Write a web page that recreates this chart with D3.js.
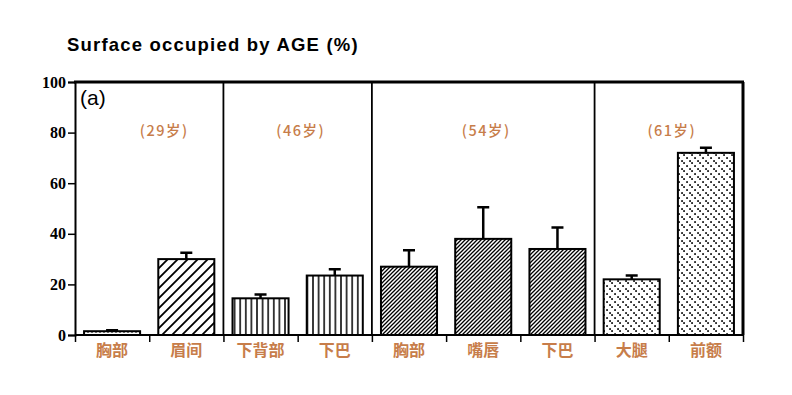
<!DOCTYPE html>
<html>
<head>
<meta charset="utf-8">
<script src="https://cdn.jsdelivr.net/npm/d3@7"></script>
<style>
  body { margin: 0; background: #fff; }
</style>
</head>
<body>
<div id="chart"></div>
<script>
// values
const categories = ["胸部", "眉间", "下背部", "下巴", "胸部", "嘴唇", "下巴", "大腿", "前额"];
const values = [1.5, 30, 14.5, 23.5, 27, 38, 34, 22, 72];
const errors = [0.4, 2.5, 1.5, 2.5, 6.5, 12.5, 8.5, 1.5, 2];
const fills = ["dots", "wide", "vert", "vert", "dense", "dense", "dense", "dotdiag", "dotdiag"];
const groupLabels = ["(29岁)", "(46岁)", "(54岁)", "(61岁)"];
const groupSizes = [2, 2, 3, 2];
const yTicks = [0, 20, 40, 60, 80, 100];

const W = 792, H = 395;
const margin = {top: 82, right: 49, bottom: 60, left: 75};
const width = W - margin.left - margin.right,
      height = 335 - margin.top;
const orange = "#c77d4a";

const svg = d3.select("#chart").append("svg")
    .attr("width", W)
    .attr("height", H);

// fill patterns
const defs = svg.append("defs");
function pat(id, w, h, draw) {
    const p = defs.append("pattern")
        .attr("id", id)
        .attr("patternUnits", "userSpaceOnUse")
        .attr("width", w).attr("height", h);
    p.append("rect").attr("width", w).attr("height", h).attr("fill", "#fff");
    draw(p);
}
pat("wide", 10, 10, p => {
    p.append("path").attr("d", "M-2,2 L2,-2 M0,10 L10,0 M8,12 L12,8")
        .attr("stroke", "#000").attr("stroke-width", 1.8);
});
pat("vert", 5.6, 10, p => {
    p.append("line").attr("x1", 2.8).attr("x2", 2.8).attr("y1", 0).attr("y2", 10)
        .attr("stroke", "#000").attr("stroke-width", 1.5);
});
pat("dense", 4, 4, p => {
    p.append("path").attr("d", "M-1,1 L1,-1 M0,4 L4,0 M3,5 L5,3")
        .attr("stroke", "#000").attr("stroke-width", 1.3);
});
pat("dotdiag", 8, 8, p => {
    // dotted "\" lines
    [[1, 1], [4, 4], [7, 7]].forEach(([cx, cy]) => {
        p.append("rect").attr("x", cx - 0.8).attr("y", cy - 0.8)
            .attr("width", 1.7).attr("height", 1.7).attr("fill", "#000");
    });
});
pat("dots", 4, 3, p => {
    p.append("rect").attr("x", 0).attr("y", 0).attr("width", 2).attr("height", 1.5).attr("fill", "#000");
});

const g = svg.append("g")
    .attr("transform", `translate(${margin.left}, ${margin.top})`);

const x = d3.scaleBand()
    .domain(d3.range(categories.length))
    .range([0, width])
    .paddingInner(0.245)
    .paddingOuter(0.122);

const y = d3.scaleLinear()
    .domain([0, 100])
    .range([height, 0]);

// title
svg.append("text")
    .attr("x", 67).attr("y", 51)
    .attr("font-family", "Liberation Sans, Arial, sans-serif")
    .attr("font-weight", "bold")
    .attr("font-size", 18.5)
    .attr("letter-spacing", 1.2)
    .text("Surface occupied by AGE (%)");

// y axis
const yAxis = g.append("g")
    .call(d3.axisLeft(y).tickValues(yTicks).tickSize(7).tickPadding(2));
yAxis.select(".domain").attr("stroke-width", 2);
yAxis.selectAll(".tick line").attr("stroke-width", 1.5);
yAxis.selectAll(".tick text")
    .attr("font-family", "Liberation Serif, Times New Roman, serif")
    .attr("font-weight", "bold")
    .attr("font-size", 16)
    .attr("fill", "#000");

// x axis: ticks at band boundaries
const xb = d3.scaleLinear().domain([0, categories.length]).range([0, width]);
const xAxis = g.append("g")
    .attr("transform", `translate(0, ${height})`)
    .call(d3.axisBottom(xb).tickValues(d3.range(categories.length + 1)).tickSize(7).tickFormat(""));
xAxis.select(".domain").attr("stroke-width", 2).attr("d", `M0,0H${width}`);
xAxis.selectAll(".tick line").attr("stroke-width", 1.5);

// category labels
g.selectAll(".cat")
    .data(categories)
    .enter().append("text")
    .attr("class", "cat")
    .attr("x", (d, i) => x(i) + x.bandwidth() / 2)
    .attr("y", height + 21)
    .attr("text-anchor", "middle")
    .attr("font-family", "Noto Sans CJK SC, sans-serif")
    .attr("font-weight", "bold")
    .attr("font-size", 16)
    .attr("fill", orange)
    .text(d => d);

// frame: top and right borders
g.append("line")
    .attr("x1", -1).attr("x2", width + 1).attr("y1", y(100)).attr("y2", y(100))
    .attr("stroke", "#000").attr("stroke-width", 3);
g.append("line")
    .attr("x1", width).attr("x2", width).attr("y1", y(100)).attr("y2", height)
    .attr("stroke", "#000").attr("stroke-width", 3);

// group dividers and age labels
let start = 0;
groupSizes.forEach((n, k) => {
    const end = start + n;
    if (end < categories.length) {
        const xd = (x(end - 1) + x.bandwidth() + x(end)) / 2;
        g.append("line")
            .attr("x1", xd).attr("x2", xd).attr("y1", y(100)).attr("y2", height)
            .attr("stroke", "#000").attr("stroke-width", 1.8);
    }
    const cx = (x(start) + x(end - 1) + x.bandwidth()) / 2;
    g.append("text")
        .attr("x", cx + (k === 0 ? 15 : 3))
        .attr("y", y(80) + 3)
        .attr("text-anchor", "middle")
        .attr("font-family", "Noto Sans CJK SC, sans-serif")
        .attr("font-weight", 500)
        .attr("font-size", 14.5)
        .attr("letter-spacing", 1.5)
        .attr("fill", orange)
        .text(groupLabels[k]);
    start = end;
});

g.append("text")
    .attr("x", 5).attr("y", y(91))
    .attr("font-family", "Liberation Sans, Arial, sans-serif")
    .attr("font-size", 21)
    .text("(a)");

// error bars
g.selectAll(".err")
    .data(values)
    .enter().append("path")
    .attr("class", "err")
    .attr("d", (d, i) => {
        const cx = x(i) + x.bandwidth() / 2;
        return `M${cx},${y(d)}V${y(d + errors[i])}M${cx - 6},${y(d + errors[i])}H${cx + 6}`;
    })
    .attr("fill", "none")
    .attr("stroke", "#000")
    .attr("stroke-width", 2.5);

// bars
g.selectAll(".bar")
    .data(values)
    .enter().append("rect")
    .attr("class", "bar")
    .attr("x", (d, i) => x(i))
    .attr("y", d => y(d))
    .attr("width", x.bandwidth())
    .attr("height", d => height - y(d))
    .attr("fill", (d, i) => `url(#${fills[i]})`)
    .attr("stroke", "#000")
    .attr("stroke-width", 2);
</script>
</body>
</html>
